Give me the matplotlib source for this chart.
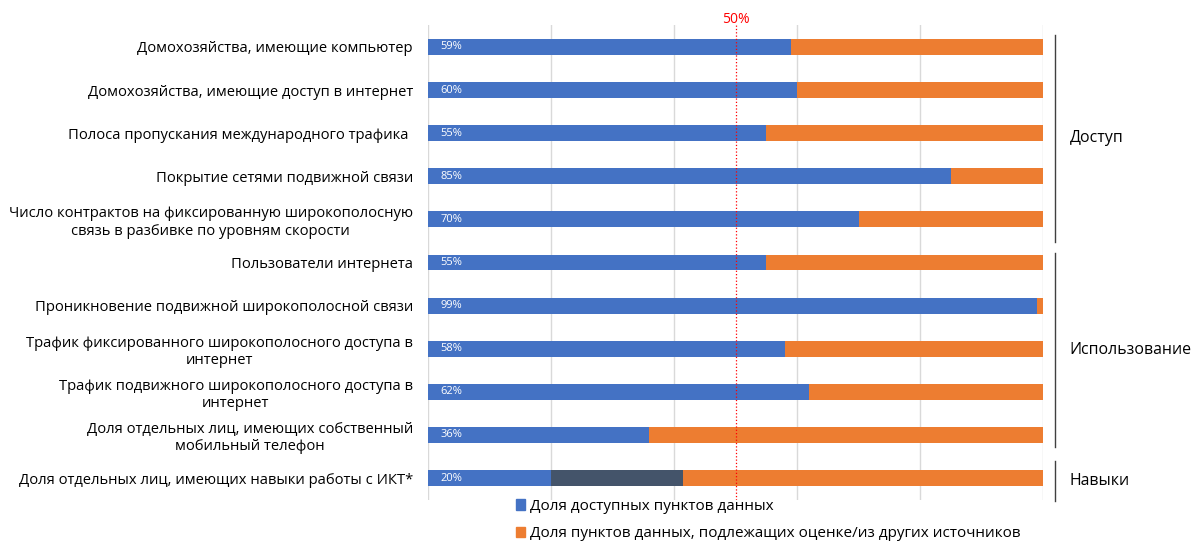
import numpy as np
import matplotlib.pyplot as plt
from matplotlib.patches import Patch

plt.rcParams['font.family'] = ['Open Sans', 'DejaVu Sans']

indicators = [
    'Домохозяйства, имеющие компьютер',
    'Домохозяйства, имеющие доступ в интернет',
    'Полоса пропускания международного трафика ',
    'Покрытие сетями подвижной связи',
    'Число контрактов на фиксированную широкополосную\nсвязь в разбивке по уровням скорости',
    'Пользователи интернета',
    'Проникновение подвижной широкополосной связи',
    'Трафик фиксированного широкополосного доступа в\nинтернет',
    'Трафик подвижного широкополосного доступа в\nинтернет',
    'Доля отдельных лиц, имеющих собственный\nмобильный телефон',
    'Доля отдельных лиц, имеющих навыки работы с ИКТ*',
]
available = [59, 60, 55, 85, 70, 55, 99, 58, 62, 36, 20]
extra = [0, 0, 0, 0, 0, 0, 0, 0, 0, 0, 21.5]
estimated = [100 - a - e for a, e in zip(available, extra)]

groups = ['Доступ', 'Использование', 'Навыки']
group_spans = [(-0.28, 4.52), (4.78, 9.28), (9.6, 10.53)]

blue = '#4472C4'
orange = '#ED7D31'
dark = '#44546A'

fig = plt.figure(figsize=(11.93, 5.41), dpi=100)
ax = fig.add_axes([0.3588, 0.0758, 0.5155, 0.878])

y = np.arange(len(indicators))
h = 0.37
ax.barh(y, available, h, color=blue, zorder=2)
ax.barh(y, extra, h, left=available, color=dark, zorder=2)
left2 = np.array(available) + np.array(extra)
ax.barh(y, estimated, h, left=left2, color=orange, zorder=2)

for yi, v in zip(y, available):
    ax.text(2, yi, f'{v}%', color='white', fontsize=8, va='center', ha='left', zorder=3)

ax.set_xlim(0, 100)
ax.set_ylim(10.51, -0.51)
ax.set_xticks(np.arange(0, 101, 20))
ax.set_xticklabels([])
ax.tick_params(axis='both', length=0)
ax.grid(axis='x', color='#D9D9D9', linewidth=1, zorder=0)
for s in ax.spines.values():
    s.set_visible(False)

ax.set_yticks(y)
ax.set_yticklabels(indicators, fontsize=10.6)
for t in ax.get_yticklabels():
    t.set_multialignment('center')
ax.tick_params(axis='y', pad=11)

ax.axvline(50, color='red', linestyle=':', linewidth=0.9, zorder=3)
ax.text(50, -0.64, '50%', color='red', fontsize=10, ha='center', va='center')

for name, (top, bottom) in zip(groups, group_spans):
    ax.plot([102, 102], [top, bottom], color='#404040', linewidth=1, clip_on=False)
    ax.text(104.3, (top + bottom) / 2, name, fontsize=11.4, va='center', ha='left')

handles = [Patch(color=blue), Patch(color=orange)]
labels = ['Доля доступных пунктов данных',
          'Доля пунктов данных, подлежащих оценке/из других источников']
fig.legend(handles, labels, loc='upper left', bbox_to_anchor=(0.427, 0.089),
           frameon=False, fontsize=11, handlelength=0.65, handleheight=0.65,
           handletextpad=0.3, labelspacing=0.8, borderaxespad=0)

fig.savefig('out.png')
